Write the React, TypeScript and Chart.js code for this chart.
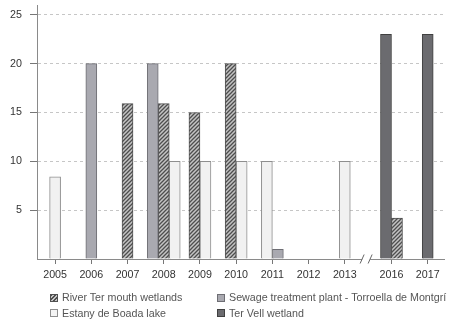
import React, { useEffect, useRef } from 'react';
import { Chart, registerables } from 'chart.js';

Chart.register(...registerables);

// ---- data ----
const years = ['2005', '2006', '2007', '2008', '2009', '2010', '2011', '2012', '2013', '2016', '2017'];
const riverTer = [null, null, 15.9, 15.9, 15, 20, null, null, null, 4.2, null];
const sewage = [null, 20, null, 20, null, null, 1, null, null, null, null];
const estany = [8.4, null, null, 10, 10, 10, 10, null, 10, null, null];
const terVell = [null, null, null, null, null, null, null, null, null, 23, 23];
const yTickValues = [0, 5, 10, 15, 20, 25];
const seriesNames = {
  river: 'River Ter mouth wetlands',
  sewage: 'Sewage treatment plant - Torroella de Montgrí',
  estany: 'Estany de Boada lake',
  terVell: 'Ter Vell wetland',
};

// ---- layout helpers (axis break after 2013) ----
const BREAK_AFTER = '2013';
const BREAK_GAP = 0.29;
const breakIndex = years.indexOf(BREAK_AFTER);
const xPos = years.map((_, i) => i + (i > breakIndex ? BREAK_GAP : 0));

const FONT = '"Liberation Sans", Arial, Helvetica, sans-serif';

function makeHatch(): CanvasPattern | string {
  const c = document.createElement('canvas');
  c.width = 4;
  c.height = 4;
  const g = c.getContext('2d');
  if (!g) return '#888';
  g.fillStyle = '#c4c4c4';
  g.fillRect(0, 0, 4, 4);
  g.strokeStyle = '#4e4e4e';
  g.lineWidth = 1.3;
  g.beginPath();
  g.moveTo(-1, 5);
  g.lineTo(5, -1);
  g.moveTo(-1, 1);
  g.lineTo(1, -1);
  g.moveTo(3, 5);
  g.lineTo(5, 3);
  g.stroke();
  const p = g.createPattern(c, 'repeat');
  return p || '#888';
}

const toPoints = (vals: (number | null)[]) => vals.map((y, i) => ({ x: xPos[i], y }));

const axisBreak = {
  id: 'axisBreak',
  afterDraw(chart: any) {
    const { ctx } = chart;
    const xs = chart.scales.x;
    const ys = chart.scales.y;
    const a = xs.getPixelForValue(xPos[breakIndex]);
    const b = xs.getPixelForValue(xPos[breakIndex + 1]);
    const cx = (a + b) / 2 - 2;
    const cy = ys.getPixelForValue(0);
    ctx.save();
    ctx.fillStyle = '#ffffff';
    ctx.fillRect(cx - 4, cy - 1.5, 8, 3);
    ctx.strokeStyle = '#666';
    ctx.lineWidth = 1;
    for (const dx of [-4, 4]) {
      ctx.beginPath();
      ctx.moveTo(cx + dx - 2, cy + 4.5);
      ctx.lineTo(cx + dx + 2, cy - 4.5);
      ctx.stroke();
    }
    ctx.restore();
  },
};

export default function App() {
  const ref = useRef<HTMLCanvasElement | null>(null);

  useEffect(() => {
    if (!ref.current) return;
    const hatch = makeHatch();
    const isSplit = (i: number) => years[i] === '2011';
    const sewageLeft = sewage.map((v, i) => (isSplit(i) ? null : v));
    const sewageRight = sewage.map((v, i) => (isSplit(i) ? v : null));
    const sewageStyle = { backgroundColor: '#a9a9b0', borderColor: '#6e6e74' };

    const chart = new Chart(ref.current, {
      type: 'bar',
      data: {
        datasets: [
          { label: seriesNames.terVell, data: toPoints(terVell), backgroundColor: '#6b6b6f', borderColor: '#404040' },
          { label: seriesNames.sewage, data: toPoints(sewageLeft), ...sewageStyle },
          { label: seriesNames.river, data: toPoints(riverTer), backgroundColor: hatch, borderColor: '#505050' },
          { label: seriesNames.estany, data: toPoints(estany), backgroundColor: '#f1f1f1', borderColor: '#8e8e8e' },
          { label: seriesNames.sewage + ' ', data: toPoints(sewageRight), ...sewageStyle },
        ] as any,
      },
      options: {
        responsive: false,
        animation: false,
        layout: { padding: { top: 5, right: 5, bottom: 40, left: 0 } },
        plugins: { legend: { display: false }, tooltip: { enabled: false } },
        datasets: { bar: { skipNull: true, barThickness: 11, borderWidth: 1, grouped: true } } as any,
        scales: {
          x: {
            type: 'linear',
            min: -0.5,
            max: 10.74,
            offset: false,
            afterBuildTicks: (s: any) => {
              s.ticks = xPos.map((v) => ({ value: v }));
            },
            afterFit: (s: any) => {
              s.height = 20;
              s.paddingLeft = 0;
              s.paddingRight = 0;
            },
            ticks: {
              autoSkip: false,
              maxRotation: 0,
              minRotation: 0,
              padding: 5,
              color: '#333',
              font: { family: FONT, size: 10.7 },
              callback: (_v: any, i: number) => years[i],
            },
            grid: {
              display: true,
              drawOnChartArea: false,
              drawTicks: true,
              tickLength: 5,
              tickColor: '#777',
              offset: false,
            },
            border: { display: true, color: '#8a8a8a', width: 1 },
          },
          y: {
            type: 'linear',
            min: 0,
            max: 26,
            afterBuildTicks: (s: any) => {
              s.ticks = yTickValues.map((v) => ({ value: v }));
            },
            afterFit: (s: any) => {
              s.width = 37;
              s.paddingTop = 0;
              s.paddingBottom = 0;
            },
            ticks: {
              padding: 8,
              color: '#333',
              font: { family: FONT, size: 10.7 },
              callback: (v: any) => (v === 0 ? '' : String(v)),
            },
            grid: {
              color: (c: any) => (c.tick && c.tick.value === 0 ? 'rgba(0,0,0,0)' : '#c6c6c6'),
              tickColor: (c: any) => (c.tick && c.tick.value === 0 ? 'rgba(0,0,0,0)' : '#777'),
              tickLength: 7,
              tickBorderDash: [],
            } as any,
            border: { display: true, color: '#8a8a8a', width: 1, dash: [3, 3] },
          },
        } as any,
      },
      plugins: [axisBreak],
    });
    return () => chart.destroy();
  }, []);

  const box = (style: React.CSSProperties) => (
    <span
      style={{
        display: 'inline-block',
        width: 8,
        height: 8,
        boxSizing: 'border-box',
        marginRight: 4,
        flex: '0 0 auto',
        ...style,
      }}
    />
  );

  const item = (marker: React.ReactNode, text: string) => (
    <div style={{ display: 'flex', alignItems: 'center', height: 15.5 }}>
      {marker}
      <span>{text}</span>
    </div>
  );

  return (
    <div
      style={{
        position: 'fixed',
        left: 0,
        top: 0,
        width: 449,
        height: 319,
        overflow: 'hidden',
        background: '#fff',
      }}
    >
      <canvas ref={ref} width={449} height={319} style={{ display: 'block', width: 449, height: 319 }} />
      <div
        style={{
          position: 'absolute',
          left: 50,
          top: 290,
          display: 'grid',
          gridTemplateColumns: '167px auto',
          fontFamily: FONT,
          fontSize: 10.7,
          color: '#555',
          whiteSpace: 'nowrap',
          lineHeight: '15.5px',
        }}
      >
        {item(
          box({
            border: '1px solid #505050',
            background: 'repeating-linear-gradient(135deg, #4e4e4e 0 1.3px, #c4c4c4 1.3px 2.8px)',
          }),
          seriesNames.river
        )}
        {item(box({ border: '1px solid #6e6e74', background: '#a9a9b0' }), seriesNames.sewage)}
        {item(box({ border: '1px solid #8e8e8e', background: '#f4f4f4' }), seriesNames.estany)}
        {item(box({ border: '1px solid #404040', background: '#6b6b6f' }), seriesNames.terVell)}
      </div>
    </div>
  );
}
